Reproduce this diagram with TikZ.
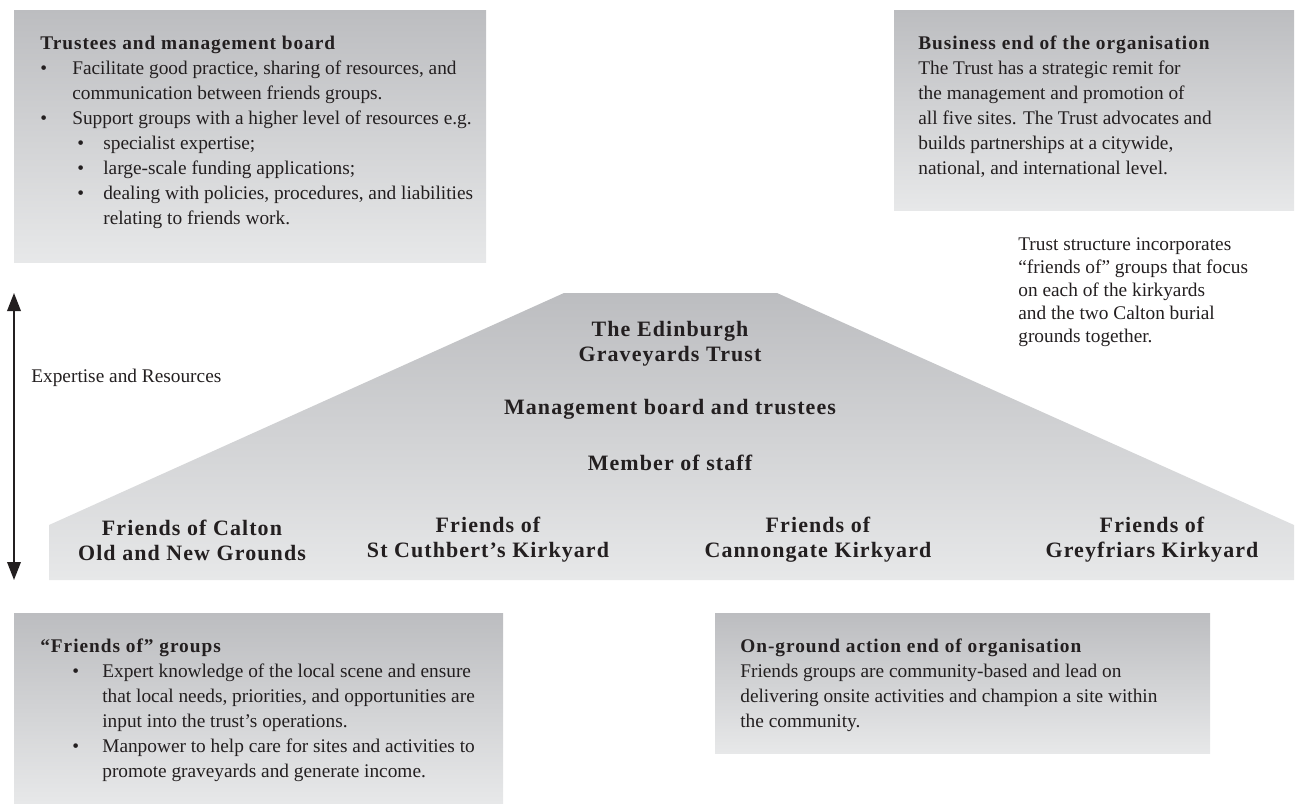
\documentclass[tikz,border=0pt]{standalone}
\usepackage{fontspec}
\setmainfont{Liberation Serif}
\newfontfamily\headfont{Liberation Serif}[LetterSpace=5]
\usetikzlibrary{arrows.meta,shadings}

\definecolor{paneltop}{RGB}{188,189,192}
\definecolor{panelbot}{RGB}{231,232,233}
\definecolor{inkgray}{RGB}{35,31,32}

% bullets and hanging indents for the panel texts
\newcommand{\bulA}{\makebox[0.64cm][l]{•}}
\newcommand{\indA}{\hspace*{0.64cm}}
\newcommand{\bulB}{\hspace*{0.74cm}\makebox[0.52cm][l]{•}}
\newcommand{\indB}{\hspace*{1.26cm}}
\newcommand{\bulC}{\hspace*{0.64cm}\makebox[0.6cm][l]{•}}
\newcommand{\indC}{\hspace*{1.24cm}}
\newcommand{\boxhead}[1]{{\headfont\bfseries #1}}

\begin{document}
\begin{tikzpicture}[x=0.02cm, y=-0.02cm]
        \tikzstyle{panel}=[top color=paneltop, bottom color=panelbot, draw=none]
        \tikzstyle{body}=[inner sep=0pt, align=left, text=inkgray, font=\fontsize{11}{14.2}\selectfont]
        \tikzstyle{note}=[body, font=\fontsize{11}{13.1}\selectfont]
        \tikzstyle{head}=[inner sep=0pt, align=center, text=inkgray, font=\headfont\bfseries\fontsize{12.5}{14.2}\selectfont]
        \tikzstyle{updown}=[{Triangle[length=0.36cm,width=0.27cm]}-{Triangle[length=0.36cm,width=0.27cm]}, line width=1.1pt, draw=inkgray]

        \useasboundingbox (0,0) rectangle (1308,808);

        % Draw the shaded panels
        \path[panel] (14,10) rectangle (486,262);
        \path[panel] (894,10) rectangle (1294,210);
        \path[panel] (14,613) rectangle (503,803);
        \path[panel] (715,613) rectangle (1210,753);
        \path[panel] (49,580) -- (49,525) -- (564,293) -- (777,293)
            -- (1294,525) -- (1294,580) -- cycle;

        % Texts of the four panels
        \node[body, anchor=north west] (boardtext) at (40,36) {%
            \boxhead{Trustees and management board}\\
            \bulA Facilitate good practice, sharing of resources, and\\
            \indA communication between friends groups.\\
            \bulA Support groups with a higher level of resources e.g.\\
            \bulB specialist expertise;\\
            \bulB large-scale funding applications;\\
            \bulB dealing with policies, procedures, and liabilities\\
            \indB relating to friends work.};
        \node[body, anchor=north west] (businesstext) at (918,36) {%
            \boxhead{Business end of the organisation}\\
            The Trust has a strategic remit for\\
            the management and promotion of\\
            all five sites. The Trust advocates and\\
            builds partnerships at a citywide,\\
            national, and international level.};
        \node[body, anchor=north west] (groupstext) at (40,639) {%
            \boxhead{“Friends of” groups}\\
            \bulC Expert knowledge of the local scene and ensure\\
            \indC that local needs, priorities, and opportunities are\\
            \indC input into the trust’s operations.\\
            \bulC Manpower to help care for sites and activities to\\
            \indC promote graveyards and generate income.};
        \node[body, anchor=north west] (groundtext) at (740,639) {%
            \boxhead{On-ground action end of organisation}\\
            Friends groups are community-based and lead on\\
            delivering onsite activities and champion a site within\\
            the community.};

        % Side notes
        \node[note, anchor=north west] (structnote) at (1018,237) {%
            Trust structure incorporates\\
            “friends of” groups that focus\\
            on each of the kirkyards\\
            and the two Calton burial\\
            grounds together.};
        \node[body, anchor=west] (expertise) at (31,378) {Expertise and Resources};

        % The trust at the top of the trapezium
        \node[head] (egt) at (670,344) {The Edinburgh\\Graveyards Trust};
        \node[head] (mgmt) at (670,409) {Management board and trustees};
        \node[head] (staff) at (670,463) {Member of staff};

        % The friends groups along the base
        \foreach \name/\x/\txt in {calton/192/{Friends of Calton\\Old and New Grounds},
                cuthbert/488/{Friends of\\St Cuthbert’s Kirkyard},
                canongate/818/{Friends of\\Cannongate Kirkyard},
                greyfriars/1152/{Friends of\\Greyfriars Kirkyard}}
            \node[head] (F-\name) at (\x,540) {\txt};

        % Expertise and resources run both ways
        \coordinate (arrtop) at (14,293);
        \coordinate (arrbot) at (14,580);
        \draw[updown] (arrtop) -- (arrbot);
\end{tikzpicture}
\end{document}
